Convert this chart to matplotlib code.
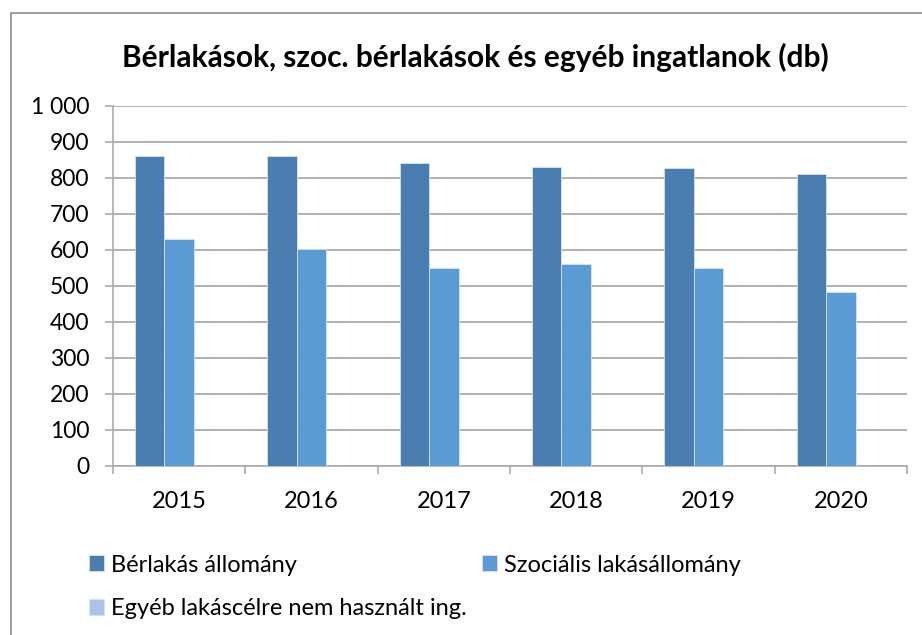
"""
Bérlakások, szociális bérlakások és egyéb ingatlanok (db)
oszlopdiagram évenkénti bontásban.
"""

import numpy as np
import matplotlib.pyplot as plt
from matplotlib.patches import Rectangle


# =====================================================
# Data
# =====================================================

YEARS = ["2015", "2016", "2017", "2018", "2019", "2020"]

BERLAKAS = [860, 860, 841, 831, 827, 812]
SZOCIALIS = [631, 602, 549, 560, 549, 483]
EGYEB = [0, 0, 0, 0, 0, 0]

SERIES_NAMES = [
    "Bérlakás állomány",
    "Szociális lakásállomány",
    "Egyéb lakáscélre nem használt ing.",
]

Y_TICKS = [0, 100, 200, 300, 400, 500, 600, 700, 800, 900, 1000]
Y_LABELS = ["0", "100", "200", "300", "400", "500", "600", "700", "800", "900", "1 000"]

TITLE = "Bérlakások, szoc. bérlakások és egyéb ingatlanok (db)"

COLORS = ["#4A7EB0", "#5B9BD5", "#A9C4E6"]
GRID = "#ABABAB"
FONT = "Lato"


# =====================================================
# Plot
# =====================================================

def plot_chart():

    fig = plt.figure(figsize=(9.22, 6.35), dpi=100)

    # chart frame
    fig.patches.append(
        Rectangle((11 / 922, -0.05), 1.2, 1 - 13 / 635 + 0.05,
                  transform=fig.transFigure, fill=False,
                  edgecolor="#8C8C8C", linewidth=1.2)
    )

    ax = fig.add_axes([113 / 922, 1 - 466 / 635, (907 - 113) / 922, (466 - 106) / 635])

    x = np.arange(len(YEARS))
    width = 1 / 4.5

    for i, (vals, name) in enumerate(zip([BERLAKAS, SZOCIALIS, EGYEB], SERIES_NAMES)):
        ax.bar(x + (i - 1) * width, vals, width, color=COLORS[i],
               edgecolor="#D6E3F2", linewidth=0.6, label=name, zorder=3)

    ax.set_xlim(-0.5, len(YEARS) - 0.5)
    ax.set_ylim(0, 1000)

    ax.set_yticks(Y_TICKS)
    ax.set_yticklabels(Y_LABELS, fontsize=16.5, fontfamily=FONT)
    ax.yaxis.grid(True, color=GRID, linewidth=1.3, zorder=0)
    ax.tick_params(axis="y", length=6, color=GRID, width=1.2, pad=11)

    # category labels centered, ticks between categories
    ax.set_xticks(x)
    ax.set_xticklabels(YEARS, fontsize=17, fontfamily=FONT)
    ax.tick_params(axis="x", length=0, pad=18)
    ax.set_xticks(np.arange(len(YEARS) + 1) - 0.5, minor=True)
    ax.tick_params(axis="x", which="minor", length=6, color=GRID, width=1.2)

    for side in ["top", "right"]:
        ax.spines[side].set_visible(False)
    for side in ["left", "bottom"]:
        ax.spines[side].set_color(GRID)
        ax.spines[side].set_linewidth(1.2)

    fig.text(475 / 922, 1 - 57 / 635, TITLE, ha="center", va="center",
             fontsize=21.5, fontweight="bold", fontfamily=FONT)

    handles, labels = ax.get_legend_handles_labels()
    order = [0, 2, 1]
    fig.legend(
        [handles[i] for i in order],
        [labels[i] for i in order],
        loc="upper left",
        bbox_to_anchor=(72 / 922, 1 - 538 / 635),
        ncol=2,
        frameon=False,
        prop={"family": FONT, "size": 17},
        handlelength=0.65,
        handleheight=0.65,
        handletextpad=0.3,
        columnspacing=0.65,
        labelspacing=0.95,
        borderpad=0.2,
    )

    fig.savefig("out.png", dpi=100)
    plt.close(fig)


# =====================================================
# Main
# =====================================================

if __name__ == "__main__":

    plot_chart()
